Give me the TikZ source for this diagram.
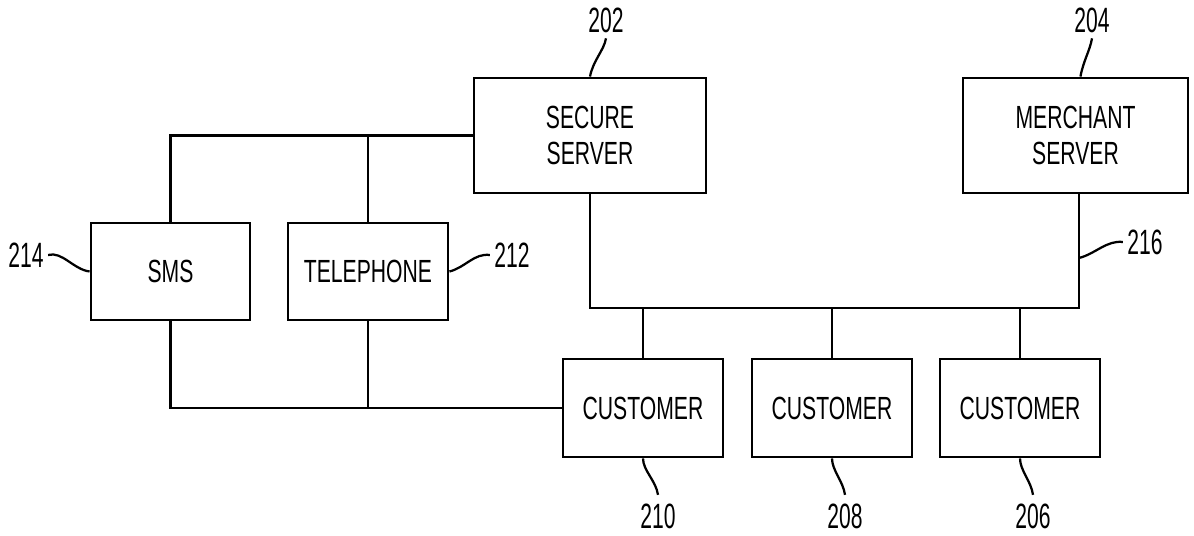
\documentclass[tikz,border=0pt]{standalone}
\usepackage{fontspec}
\setmainfont{Liberation Sans}[FakeStretch=0.66]
\newfontfamily\refnumfont{Liberation Sans}[FakeStretch=0.6]
\usetikzlibrary{positioning}

\tikzset{
    box/.style={draw, line width=2pt, align=center, inner sep=0pt,
        font=\fontsize{22.8}{25.6}\selectfont},
    link/.style={line width=2pt},
    lead/.style={line width=1.6pt},
    refnum/.style={inner sep=0pt, font=\refnumfont\fontsize{25}{25}\selectfont}
}

\begin{document}
\begin{tikzpicture}[x=0.025cm,y=-0.025cm]
    \useasboundingbox (0,0) rectangle (1194,536);
    \node[box,minimum width=5.8cm,minimum height=2.875cm] (secure) at (590,135.5) {SECURE\\SERVER};
    \node[box,minimum width=5.625cm,minimum height=2.875cm] (merchant) at (1075.5,135.5) {MERCHANT\\SERVER};
    \node[box,minimum width=3.975cm,minimum height=2.425cm] (sms) at (170.5,271.5) {SMS};
    \node[box,minimum width=4cm,minimum height=2.425cm] (tel) at (368,271.5) {TELEPHONE};
    \node[box,minimum width=4cm,minimum height=2.45cm] (cust210) at (643,408) {CUSTOMER};
    \node[box,minimum width=4cm,minimum height=2.45cm] (cust208) at (832,408) {CUSTOMER};
    \node[box,minimum width=4cm,minimum height=2.45cm] (cust206) at (1020,408) {CUSTOMER};
    \coordinate (mbus) at (1079,308);
    \coordinate (p216) at (1079,258);

    \draw[link] (sms.north) |- (secure.west);
    \draw[link] (tel.north) -- (tel.north |- secure.west);
    \draw[link] (sms.south) |- (cust210.west);
    \draw[link] (tel.south) -- (tel.south |- cust210.west);
    \draw[link] (secure.south) |- (mbus) -- (merchant.south -| mbus);
    \foreach \c in {cust210,cust208,cust206}
        \draw[link] (\c.north) -- (\c.north |- mbus);

    \node[refnum] (n202) at (606,20) {202};
    \node[refnum] (n204) at (1092,20) {204};
    \node[refnum] (n214) at (26,255) {214};
    \node[refnum] (n212) at (512,255) {212};
    \node[refnum] (n216) at (1145,242) {216};
    \node[refnum] (n210) at (658,516) {210};
    \node[refnum] (n208) at (845,516) {208};
    \node[refnum] (n206) at (1033,516) {206};

    \draw[lead] (secure.north) .. controls +(3,-16) and +(-2,12) .. ([yshift=-4pt]n202.south);
    \draw[lead] ([xshift=3.5pt]merchant.north) .. controls +(3,-16) and +(-2,12) .. ([yshift=-4pt]n204.south);
    \draw[lead] (sms.west) .. controls +(-16,-2) and +(14,-4) .. ([xshift=3pt]n214.east);
    \draw[lead] (tel.east) .. controls +(16,-4) and +(-16,-2) .. ([xshift=-3pt]n212.west);
    \draw[lead] (p216) .. controls +(16,-4) and +(-16,-2) .. ([xshift=-3pt]n216.west);
    \draw[lead] (cust210.south) .. controls +(0,12) and +(-2,-14) .. ([yshift=6pt]n210.north);
    \draw[lead] (cust208.south) .. controls +(0,12) and +(-2,-14) .. ([yshift=6pt]n208.north);
    \draw[lead] (cust206.south) .. controls +(0,12) and +(-2,-14) .. ([yshift=6pt]n206.north);
\end{tikzpicture}
\end{document}
